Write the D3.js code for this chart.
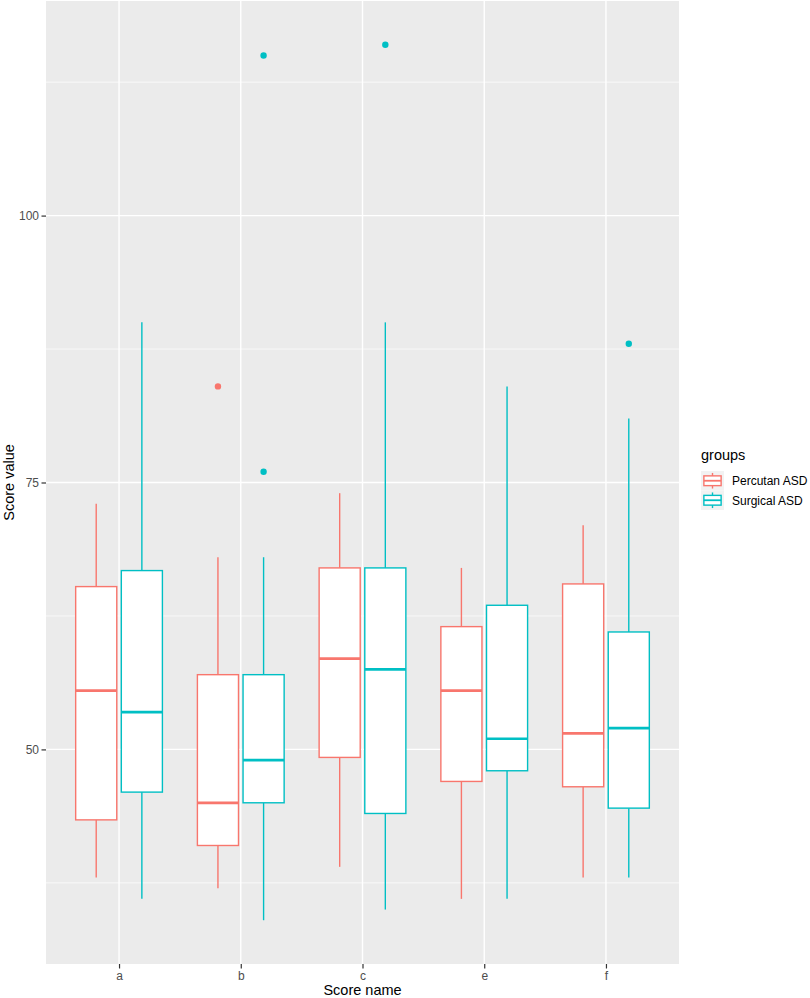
<!DOCTYPE html>
<html>
<head>
<meta charset="utf-8">
<script src="https://cdn.jsdelivr.net/npm/d3@7"></script>
<style>
  body { margin: 0; background: #fff; }
  svg text { font-family: "Liberation Sans", Arial, sans-serif; }
</style>
</head>
<body>
<div id="chart"></div>
<script>
// score categories and groups
var categories = ['a', 'b', 'c', 'e', 'f'];
var groups = ['Percutan ASD', 'Surgical ASD'];
var groupColors = ['#F8766D', '#00BFC4'];

// box stats (lower whisker, Q1, median, Q3, upper whisker)
var percutanLower  = [38, 37, 39, 36, 38];
var percutanQ1     = [43.4, 41, 49.25, 47, 46.5];
var percutanMedian = [55.5, 45, 58.5, 55.5, 51.5];
var percutanQ3     = [65.25, 57, 67, 61.5, 65.5];
var percutanUpper  = [73, 68, 74, 67, 71];

var surgicalLower  = [36, 34, 35, 36, 38];
var surgicalQ1     = [46, 45, 44, 48, 44.5];
var surgicalMedian = [53.5, 49, 57.5, 51, 52];
var surgicalQ3     = [66.75, 57, 67, 63.5, 61];
var surgicalUpper  = [90, 68, 90, 84, 81];

// outliers
var percutanOutlierCats = ['b'];
var percutanOutlierValues = [84];
var surgicalOutlierCats = ['b', 'b', 'c', 'f'];
var surgicalOutlierValues = [115, 76, 116, 88];

var yTicks = [50, 75, 100];
var yMinor = [37.5, 62.5, 87.5, 112.5];

var W = 810, H = 998;
var panel = {left: 46, right: 679, top: 1, bottom: 964};

var svg = d3.select('#chart').append('svg')
    .attr('width', W)
    .attr('height', H);

var x = d3.scaleLinear()
    .domain([-0.6, categories.length - 1 + 0.6])
    .range([panel.left, panel.right]);

var y = d3.scaleLinear()
    .domain([29.9, 120.1])
    .range([panel.bottom, panel.top]);

// panel background
svg.append('rect')
    .attr('x', panel.left).attr('y', panel.top)
    .attr('width', panel.right - panel.left)
    .attr('height', panel.bottom - panel.top)
    .attr('fill', '#EBEBEB');

var grid = svg.append('g');
grid.selectAll('line.minor')
    .data(yMinor).enter().append('line')
    .attr('class', 'minor')
    .attr('x1', panel.left).attr('x2', panel.right)
    .attr('y1', d => y(d)).attr('y2', d => y(d))
    .attr('stroke', '#fff').attr('stroke-width', 0.7);
grid.selectAll('line.majorY')
    .data(yTicks).enter().append('line')
    .attr('class', 'majorY')
    .attr('x1', panel.left).attr('x2', panel.right)
    .attr('y1', d => y(d)).attr('y2', d => y(d))
    .attr('stroke', '#fff').attr('stroke-width', 1.4);
grid.selectAll('line.majorX')
    .data(categories).enter().append('line')
    .attr('class', 'majorX')
    .attr('x1', (d, i) => x(i)).attr('x2', (d, i) => x(i))
    .attr('y1', panel.top).attr('y2', panel.bottom)
    .attr('stroke', '#fff').attr('stroke-width', 1.4);

// build box rows from the arrays
var stats = [
    {lo: percutanLower, q1: percutanQ1, med: percutanMedian, q3: percutanQ3, hi: percutanUpper},
    {lo: surgicalLower, q1: surgicalQ1, med: surgicalMedian, q3: surgicalQ3, hi: surgicalUpper}
];
var boxes = [];
stats.forEach(function (s, g) {
    categories.forEach(function (c, i) {
        boxes.push({g: g, i: i, lo: s.lo[i], q1: s.q1[i], med: s.med[i], q3: s.q3[i], hi: s.hi[i]});
    });
});

var dodge = 0.1875, halfW = 0.16875;
var lw = 1.4;
function cx(d) { return x(d.i + (d.g === 0 ? -dodge : dodge)); }

var bx = svg.append('g').selectAll('g').data(boxes).enter().append('g');
bx.append('line')
    .attr('x1', cx).attr('x2', cx)
    .attr('y1', d => y(d.hi)).attr('y2', d => y(d.q3))
    .attr('stroke', d => groupColors[d.g]).attr('stroke-width', lw);
bx.append('line')
    .attr('x1', cx).attr('x2', cx)
    .attr('y1', d => y(d.q1)).attr('y2', d => y(d.lo))
    .attr('stroke', d => groupColors[d.g]).attr('stroke-width', lw);
bx.append('rect')
    .attr('x', d => cx(d) - (x(halfW) - x(0)))
    .attr('width', 2 * (x(halfW) - x(0)))
    .attr('y', d => y(d.q3))
    .attr('height', d => y(d.q1) - y(d.q3))
    .attr('fill', '#fff')
    .attr('stroke', d => groupColors[d.g]).attr('stroke-width', lw);
bx.append('line')
    .attr('x1', d => cx(d) - (x(halfW) - x(0)))
    .attr('x2', d => cx(d) + (x(halfW) - x(0)))
    .attr('y1', d => y(d.med)).attr('y2', d => y(d.med))
    .attr('stroke', d => groupColors[d.g]).attr('stroke-width', 2.7);

// outlier points
var outliers = [];
percutanOutlierCats.forEach(function (c, k) {
    outliers.push({g: 0, i: categories.indexOf(c), v: percutanOutlierValues[k]});
});
surgicalOutlierCats.forEach(function (c, k) {
    outliers.push({g: 1, i: categories.indexOf(c), v: surgicalOutlierValues[k]});
});
svg.append('g').selectAll('circle').data(outliers).enter().append('circle')
    .attr('cx', cx).attr('cy', d => y(d.v))
    .attr('r', 3.2)
    .attr('fill', d => groupColors[d.g]);

// axes
var yAxis = svg.append('g')
    .attr('transform', 'translate(' + panel.left + ',0)')
    .call(d3.axisLeft(y).tickValues(yTicks).tickSize(4.5).tickPadding(2.5));
var xAxis = svg.append('g')
    .attr('transform', 'translate(0,' + panel.bottom + ')')
    .call(d3.axisBottom(x).tickValues(d3.range(categories.length))
        .tickFormat(i => categories[i]).tickSize(4.5).tickPadding(3));
[yAxis, xAxis].forEach(function (a) {
    a.select('.domain').remove();
    a.selectAll('.tick line').attr('stroke', '#333').attr('stroke-width', 1.2);
    a.selectAll('.tick text').attr('fill', '#4D4D4D').style('font-size', '12px');
});

svg.append('text')
    .attr('x', (panel.left + panel.right) / 2)
    .attr('y', 995)
    .attr('text-anchor', 'middle')
    .style('font-size', '14.5px')
    .text('Score name');
svg.append('text')
    .attr('transform', 'translate(13.5,' + ((panel.top + panel.bottom) / 2) + ') rotate(-90)')
    .attr('text-anchor', 'middle')
    .style('font-size', '14.5px')
    .text('Score value');

// legend
var legend = svg.append('g').attr('transform', 'translate(701,0)');
legend.append('text')
    .attr('x', 0).attr('y', 460)
    .style('font-size', '14.5px')
    .text('groups');
var keyW = 23, keyH = 19.5, keyTop = 471;
var keys = legend.selectAll('g.key').data(groups).enter().append('g')
    .attr('class', 'key')
    .attr('transform', (d, i) => 'translate(0,' + (keyTop + i * keyH) + ')');
keys.append('rect')
    .attr('width', keyW).attr('height', keyH)
    .attr('fill', '#F2F2F2');
keys.append('line')
    .attr('x1', keyW / 2).attr('x2', keyW / 2)
    .attr('y1', keyH * 0.1).attr('y2', keyH * 0.9)
    .attr('stroke', (d, i) => groupColors[i]).attr('stroke-width', lw);
keys.append('rect')
    .attr('x', keyW * 0.125).attr('width', keyW * 0.75)
    .attr('y', keyH * 0.25).attr('height', keyH * 0.5)
    .attr('fill', '#fff')
    .attr('stroke', (d, i) => groupColors[i]).attr('stroke-width', lw);
keys.append('line')
    .attr('x1', keyW * 0.125).attr('x2', keyW * 0.875)
    .attr('y1', keyH / 2).attr('y2', keyH / 2)
    .attr('stroke', (d, i) => groupColors[i]).attr('stroke-width', 1.8);
keys.append('text')
    .attr('x', 31).attr('y', keyH / 2 + 4.5)
    .style('font-size', '12px')
    .text(d => d);
</script>
</body>
</html>
